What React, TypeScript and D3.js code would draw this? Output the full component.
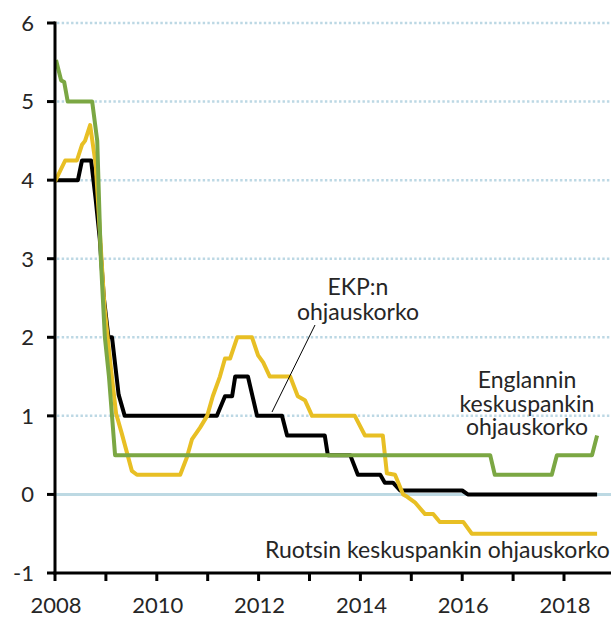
import React from "react";
import * as d3 from "d3";

const yTicks = [-1, 0, 1, 2, 3, 4, 5, 6];
const xTickYears = [2008, 2009, 2010, 2011, 2012, 2013, 2014, 2015, 2016, 2017, 2018];
const xLabelYears = [2008, 2010, 2012, 2014, 2016, 2018];

// EKP (ECB) main refinancing rate: [year, value]
const ecbT = [2008.0, 2008.45, 2008.53, 2008.71, 2008.8, 2008.88, 2008.96, 2009.05, 2009.12, 2009.25, 2009.37, 2011.18, 2011.34, 2011.48, 2011.54, 2011.79, 2011.97, 2012.46, 2012.56, 2013.3, 2013.36, 2013.8, 2013.95, 2014.39, 2014.48, 2014.64, 2014.78, 2016.0, 2016.11, 2018.65];
const ecbV = [4.0, 4.0, 4.25, 4.25, 3.75, 3.25, 2.5, 2.0, 2.0, 1.27, 1.0, 1.0, 1.25, 1.25, 1.5, 1.5, 1.0, 1.0, 0.75, 0.75, 0.5, 0.5, 0.25, 0.25, 0.15, 0.15, 0.05, 0.05, 0.0, 0.0];

// Riksbank repo rate
const sweT = [2008.0, 2008.2, 2008.43, 2008.53, 2008.59, 2008.69, 2008.8, 2008.97, 2009.1, 2009.2, 2009.31, 2009.51, 2009.61, 2010.46, 2010.59, 2010.69, 2010.85, 2010.99, 2011.1, 2011.24, 2011.34, 2011.44, 2011.58, 2011.87, 2011.99, 2012.09, 2012.22, 2012.62, 2012.77, 2012.91, 2013.05, 2013.89, 2014.09, 2014.44, 2014.52, 2014.68, 2014.84, 2014.92, 2015.07, 2015.27, 2015.43, 2015.56, 2016.02, 2016.19, 2018.65];
const sweV = [3.98, 4.25, 4.25, 4.45, 4.5, 4.7, 4.2, 2.4, 1.6, 1.03, 0.78, 0.3, 0.25, 0.25, 0.47, 0.7, 0.85, 1.0, 1.25, 1.5, 1.73, 1.73, 2.0, 2.0, 1.77, 1.68, 1.5, 1.5, 1.25, 1.2, 1.0, 1.0, 0.75, 0.75, 0.27, 0.25, 0.0, -0.03, -0.1, -0.25, -0.25, -0.35, -0.35, -0.5, -0.5];

// Bank of England bank rate
const boeT = [2008.02, 2008.12, 2008.18, 2008.25, 2008.73, 2008.83, 2008.9, 2008.98, 2009.06, 2009.12, 2009.18, 2016.55, 2016.64, 2017.76, 2017.86, 2018.55, 2018.65];
const boeV = [5.53, 5.27, 5.25, 5.0, 5.0, 4.5, 3.0, 2.0, 1.5, 1.0, 0.5, 0.5, 0.25, 0.25, 0.5, 0.5, 0.75];

const W = 611;
const H = 617;

export default function App() {
  const x = d3.scaleLinear().domain([2008, 2018]).range([55, 564]);
  const y = d3.scaleLinear().domain([-1, 6]).range([573, 23]);
  const line = d3
    .line<[number, number]>()
    .x((d) => x(d[0]))
    .y((d) => y(d[1]))
    .curve(d3.curveLinear);

  const ecb = ecbT.map((t, i) => [t, ecbV[i]] as [number, number]);
  const swe = sweT.map((t, i) => [t, sweV[i]] as [number, number]);
  const boe = boeT.map((t, i) => [t, boeV[i]] as [number, number]);

  const font = "Lato, 'Open Sans', sans-serif";
  const textColor = "#262626";
  const tickFs = 22;
  const labFs = 23;

  return (
    <svg
      width={W}
      height={H}
      style={{ position: "absolute", left: 0, top: 0, background: "#fff" }}
      fontFamily={font}
    >
      {/* grid lines */}
      {yTicks
        .filter((v) => v > 0)
        .map((v) => (
          <line
            key={"g" + v}
            x1={x(2008) + 2}
            x2={W}
            y1={y(v)}
            y2={y(v)}
            stroke="#BCD8E4"
            strokeWidth={2.5}
            strokeDasharray="2.4,2.3"
          />
        ))}
      <line x1={x(2008)} x2={W} y1={y(0)} y2={y(0)} stroke="#BDD9E3" strokeWidth={3} />

      {/* series */}
      <path d={line(ecb) || ""} fill="none" stroke="#000" strokeWidth={4} strokeLinejoin="round" />
      <path d={line(swe) || ""} fill="none" stroke="#E8BF24" strokeWidth={4} strokeLinejoin="round" />
      <path d={line(boe) || ""} fill="none" stroke="#7BA743" strokeWidth={4} strokeLinejoin="round" />

      {/* leader line */}
      <line x1={315} y1={325} x2={272} y2={412} stroke="#000" strokeWidth={1} />

      {/* axes */}
      <line x1={x(2008)} x2={x(2008)} y1={y(6) - 1.5} y2={y(-1) + 1.5} stroke="#000" strokeWidth={3} />
      <line x1={x(2008) - 1.5} x2={W} y1={y(-1)} y2={y(-1)} stroke="#000" strokeWidth={3} />
      {yTicks.map((v) => (
        <g key={"yt" + v}>
          <line x1={x(2008) - 8} x2={x(2008)} y1={y(v)} y2={y(v)} stroke="#000" strokeWidth={3} />
          <text
            x={34}
            y={y(v)}
            dy="0.36em"
            textAnchor="end"
            fontSize={tickFs}
            fill={textColor}
          >
            {v}
          </text>
        </g>
      ))}
      {xTickYears.map((t) => (
        <line key={"xt" + t} x1={x(t)} x2={x(t)} y1={y(-1)} y2={y(-1) + 8} stroke="#000" strokeWidth={3} />
      ))}
      {xLabelYears.map((t) => (
        <text key={"xl" + t} x={x(t) + 1} y={613} textAnchor="middle" fontSize={tickFs} fill={textColor}>
          {t}
        </text>
      ))}

      {/* labels */}
      <text x={358} y={295} textAnchor="middle" fontSize={labFs} fill={textColor}>
        EKP:n
      </text>
      <text x={358} y={320} textAnchor="middle" fontSize={labFs} fill={textColor}>
        ohjauskorko
      </text>
      <text x={527} y={388} textAnchor="middle" fontSize={labFs} fill={textColor}>
        Englannin
      </text>
      <text x={527} y={412} textAnchor="middle" fontSize={labFs} fill={textColor}>
        keskuspankin
      </text>
      <text x={527} y={435} textAnchor="middle" fontSize={labFs} fill={textColor}>
        ohjauskorko
      </text>
      <text x={265} y={558} textAnchor="start" fontSize={labFs} fill={textColor}>
        Ruotsin keskuspankin ohjauskorko
      </text>
    </svg>
  );
}
